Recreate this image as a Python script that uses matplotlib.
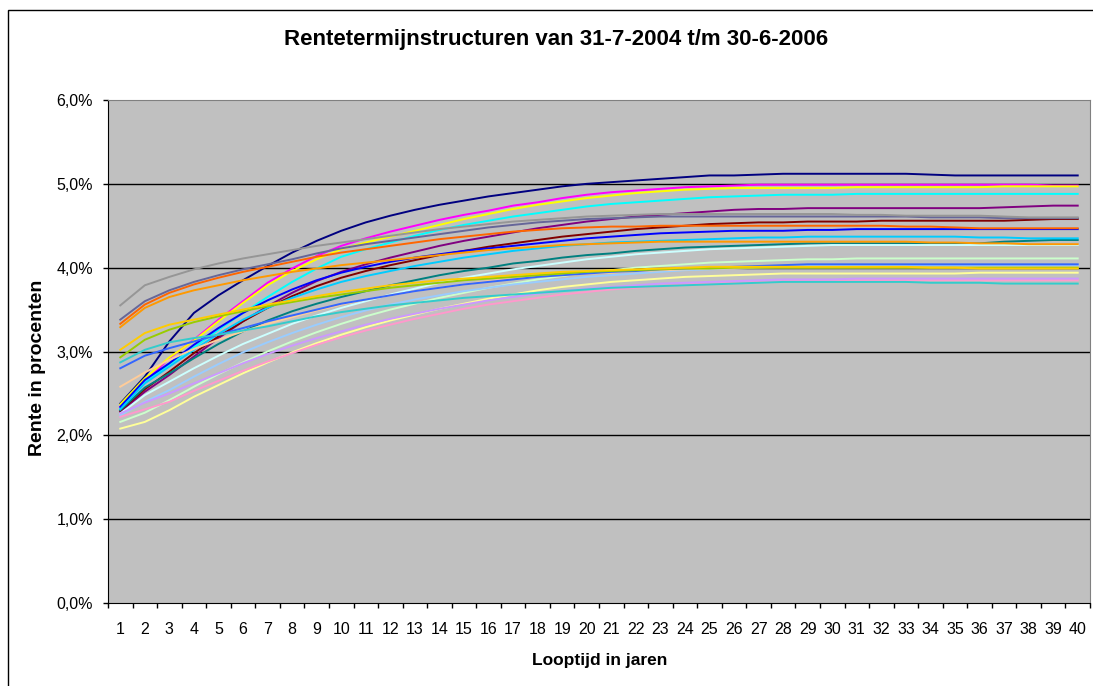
import numpy as np
from matplotlib import pyplot as plt
from matplotlib.patches import Rectangle

plt.rcParams['font.family'] = ['Liberation Sans', 'DejaVu Sans']

# looptijd in jaren (categorie-as)
looptijd = list(range(1, 41))

# rentetermijnstructuren per maandeinde, in procenten
r_2004_07 = [2.38, 2.70, 3.12, 3.46, 3.67, 3.85, 4.02, 4.18, 4.32, 4.44,
             4.54, 4.62, 4.69, 4.75, 4.80, 4.85, 4.89, 4.93, 4.97, 5.00,
             5.02, 5.04, 5.06, 5.08, 5.10, 5.10, 5.11, 5.12, 5.12, 5.12,
             5.12, 5.12, 5.12, 5.11, 5.10, 5.10, 5.10, 5.10, 5.10, 5.10]
r_2004_08 = [2.33, 2.64, 2.92, 3.14, 3.38, 3.60, 3.82, 3.99, 4.14, 4.26,
             4.35, 4.43, 4.50, 4.57, 4.63, 4.68, 4.74, 4.78, 4.83, 4.87,
             4.90, 4.92, 4.94, 4.96, 4.97, 4.98, 4.99, 4.99, 4.99, 4.99,
             4.99, 4.99, 4.99, 4.99, 4.99, 4.99, 4.99, 4.99, 4.98, 4.98]
r_2004_09 = [2.37, 2.68, 2.93, 3.13, 3.36, 3.58, 3.79, 3.96, 4.10, 4.22,
             4.30, 4.37, 4.44, 4.51, 4.58, 4.64, 4.70, 4.75, 4.79, 4.83,
             4.86, 4.89, 4.91, 4.93, 4.94, 4.95, 4.95, 4.95, 4.95, 4.95,
             4.96, 4.96, 4.96, 4.96, 4.96, 4.96, 4.97, 4.97, 4.97, 4.97]
r_2004_10 = [2.32, 2.63, 2.85, 3.05, 3.26, 3.46, 3.65, 3.83, 3.99, 4.13,
             4.22, 4.30, 4.38, 4.45, 4.51, 4.56, 4.61, 4.65, 4.69, 4.73,
             4.76, 4.78, 4.80, 4.82, 4.84, 4.85, 4.86, 4.87, 4.87, 4.87,
             4.88, 4.88, 4.88, 4.88, 4.88, 4.88, 4.88, 4.88, 4.88, 4.88]
r_2004_11 = [2.28, 2.52, 2.72, 2.94, 3.16, 3.36, 3.54, 3.70, 3.84, 3.95,
             4.04, 4.12, 4.19, 4.26, 4.32, 4.37, 4.42, 4.47, 4.51, 4.55,
             4.58, 4.61, 4.63, 4.65, 4.67, 4.69, 4.70, 4.70, 4.71, 4.71,
             4.71, 4.71, 4.71, 4.71, 4.71, 4.71, 4.72, 4.73, 4.74, 4.74]
r_2004_12 = [2.29, 2.55, 2.76, 2.98, 3.18, 3.36, 3.52, 3.66, 3.78, 3.88,
             3.96, 4.03, 4.09, 4.15, 4.20, 4.25, 4.29, 4.33, 4.37, 4.40,
             4.43, 4.46, 4.48, 4.50, 4.52, 4.53, 4.54, 4.54, 4.55, 4.55,
             4.55, 4.56, 4.56, 4.56, 4.56, 4.56, 4.56, 4.57, 4.58, 4.58]
r_2005_01 = [2.30, 2.57, 2.74, 2.92, 3.09, 3.24, 3.37, 3.48, 3.57, 3.65,
             3.72, 3.79, 3.85, 3.91, 3.96, 4.00, 4.05, 4.08, 4.12, 4.15,
             4.17, 4.20, 4.22, 4.24, 4.25, 4.26, 4.27, 4.28, 4.29, 4.29,
             4.29, 4.29, 4.29, 4.29, 4.29, 4.29, 4.31, 4.32, 4.33, 4.33]
r_2005_02 = [2.34, 2.66, 2.86, 3.08, 3.28, 3.46, 3.61, 3.74, 3.85, 3.94,
             4.01, 4.07, 4.12, 4.16, 4.20, 4.23, 4.26, 4.29, 4.32, 4.35,
             4.37, 4.39, 4.41, 4.42, 4.43, 4.44, 4.44, 4.44, 4.45, 4.45,
             4.46, 4.46, 4.46, 4.46, 4.46, 4.46, 4.46, 4.46, 4.46, 4.46]
r_2005_03 = [2.31, 2.62, 2.82, 3.02, 3.21, 3.38, 3.52, 3.64, 3.74, 3.83,
             3.90, 3.96, 4.02, 4.07, 4.12, 4.16, 4.20, 4.23, 4.26, 4.28,
             4.30, 4.31, 4.32, 4.33, 4.34, 4.35, 4.36, 4.36, 4.37, 4.37,
             4.37, 4.37, 4.37, 4.37, 4.37, 4.36, 4.36, 4.35, 4.35, 4.35]
r_2005_04 = [2.26, 2.48, 2.64, 2.80, 2.95, 3.09, 3.21, 3.33, 3.43, 3.52,
             3.60, 3.68, 3.75, 3.82, 3.88, 3.93, 3.98, 4.02, 4.06, 4.10,
             4.13, 4.16, 4.18, 4.20, 4.22, 4.23, 4.24, 4.25, 4.26, 4.27,
             4.27, 4.27, 4.27, 4.27, 4.27, 4.27, 4.27, 4.27, 4.27, 4.27]
r_2005_05 = [2.16, 2.27, 2.42, 2.58, 2.73, 2.87, 3.00, 3.12, 3.23, 3.33,
             3.42, 3.50, 3.57, 3.64, 3.70, 3.76, 3.81, 3.86, 3.90, 3.94,
             3.97, 4.00, 4.02, 4.04, 4.06, 4.07, 4.08, 4.09, 4.10, 4.10,
             4.11, 4.11, 4.11, 4.11, 4.11, 4.11, 4.11, 4.11, 4.11, 4.11]
r_2005_06 = [2.08, 2.16, 2.30, 2.46, 2.60, 2.74, 2.87, 2.99, 3.10, 3.20,
             3.29, 3.37, 3.44, 3.51, 3.57, 3.63, 3.68, 3.73, 3.77, 3.80,
             3.83, 3.85, 3.87, 3.89, 3.90, 3.91, 3.92, 3.93, 3.93, 3.93,
             3.93, 3.93, 3.93, 3.93, 3.93, 3.94, 3.94, 3.94, 3.94, 3.94]
r_2005_07 = [2.24, 2.40, 2.54, 2.70, 2.85, 2.99, 3.11, 3.22, 3.32, 3.41,
             3.49, 3.56, 3.62, 3.67, 3.72, 3.76, 3.80, 3.83, 3.86, 3.89,
             3.91, 3.93, 3.95, 3.97, 3.98, 3.99, 4.00, 4.01, 4.02, 4.02,
             4.03, 4.03, 4.03, 4.03, 4.03, 4.03, 4.03, 4.03, 4.03, 4.03]
r_2005_08 = [2.22, 2.31, 2.40, 2.53, 2.65, 2.77, 2.88, 2.98, 3.08, 3.17,
             3.25, 3.32, 3.39, 3.45, 3.51, 3.56, 3.60, 3.64, 3.68, 3.71,
             3.74, 3.76, 3.78, 3.80, 3.81, 3.82, 3.83, 3.84, 3.85, 3.85,
             3.85, 3.85, 3.85, 3.85, 3.85, 3.85, 3.85, 3.85, 3.85, 3.85]
r_2005_09 = [2.26, 2.39, 2.50, 2.62, 2.74, 2.86, 2.97, 3.07, 3.16, 3.24,
             3.32, 3.39, 3.45, 3.51, 3.56, 3.61, 3.65, 3.69, 3.72, 3.75,
             3.77, 3.79, 3.81, 3.82, 3.83, 3.84, 3.85, 3.86, 3.86, 3.86,
             3.87, 3.87, 3.87, 3.87, 3.87, 3.87, 3.87, 3.87, 3.87, 3.87]
r_2005_10 = [2.58, 2.75, 2.90, 3.03, 3.14, 3.24, 3.33, 3.41, 3.49, 3.56,
             3.62, 3.67, 3.72, 3.76, 3.80, 3.84, 3.87, 3.89, 3.91, 3.93,
             3.94, 3.96, 3.97, 3.98, 3.99, 3.99, 4.00, 4.00, 4.00, 4.00,
             4.00, 4.00, 4.00, 4.00, 4.00, 4.00, 4.00, 4.00, 4.00, 4.00]
r_2005_11 = [2.80, 2.95, 3.04, 3.12, 3.20, 3.28, 3.36, 3.43, 3.50, 3.57,
             3.62, 3.67, 3.72, 3.76, 3.80, 3.83, 3.86, 3.89, 3.91, 3.93,
             3.95, 3.96, 3.98, 3.99, 4.00, 4.01, 4.02, 4.03, 4.04, 4.04,
             4.04, 4.04, 4.04, 4.04, 4.04, 4.04, 4.04, 4.04, 4.04, 4.04]
r_2005_12 = [2.87, 3.02, 3.11, 3.16, 3.20, 3.25, 3.30, 3.36, 3.42, 3.47,
             3.51, 3.55, 3.58, 3.61, 3.64, 3.66, 3.68, 3.70, 3.72, 3.74,
             3.76, 3.77, 3.78, 3.79, 3.80, 3.81, 3.82, 3.83, 3.83, 3.83,
             3.83, 3.83, 3.83, 3.82, 3.82, 3.82, 3.81, 3.81, 3.81, 3.81]
r_2006_01 = [2.93, 3.14, 3.26, 3.35, 3.42, 3.48, 3.54, 3.59, 3.64, 3.68,
             3.72, 3.76, 3.79, 3.82, 3.85, 3.87, 3.89, 3.91, 3.93, 3.95,
             3.96, 3.97, 3.98, 3.99, 3.99, 4.00, 4.00, 4.00, 4.00, 4.00,
             4.00, 4.00, 4.00, 4.00, 4.00, 4.00, 4.00, 4.00, 4.00, 4.00]
r_2006_02 = [3.02, 3.22, 3.32, 3.38, 3.44, 3.50, 3.56, 3.61, 3.66, 3.71,
             3.75, 3.79, 3.82, 3.85, 3.87, 3.89, 3.91, 3.93, 3.95, 3.96,
             3.97, 3.98, 3.99, 4.00, 4.01, 4.01, 4.01, 4.01, 4.01, 4.01,
             4.01, 4.01, 4.01, 4.00, 4.00, 3.99, 3.99, 3.99, 3.99, 3.99]
r_2006_03 = [3.29, 3.52, 3.65, 3.73, 3.79, 3.85, 3.90, 3.95, 3.99, 4.03,
             4.06, 4.09, 4.12, 4.15, 4.18, 4.21, 4.23, 4.25, 4.27, 4.28,
             4.29, 4.30, 4.31, 4.31, 4.31, 4.31, 4.31, 4.31, 4.31, 4.31,
             4.31, 4.31, 4.31, 4.30, 4.30, 4.29, 4.29, 4.28, 4.28, 4.28]
r_2006_04 = [3.33, 3.56, 3.70, 3.80, 3.88, 3.95, 4.01, 4.07, 4.13, 4.18,
             4.22, 4.26, 4.30, 4.34, 4.37, 4.40, 4.43, 4.45, 4.47, 4.48,
             4.49, 4.49, 4.50, 4.50, 4.50, 4.50, 4.50, 4.50, 4.50, 4.50,
             4.50, 4.50, 4.49, 4.49, 4.48, 4.47, 4.47, 4.47, 4.47, 4.47]
r_2006_05 = [3.38, 3.60, 3.73, 3.83, 3.91, 3.98, 4.04, 4.10, 4.17, 4.23,
             4.28, 4.32, 4.36, 4.40, 4.44, 4.48, 4.51, 4.54, 4.56, 4.58,
             4.59, 4.60, 4.61, 4.61, 4.61, 4.61, 4.61, 4.61, 4.61, 4.61,
             4.61, 4.61, 4.61, 4.60, 4.60, 4.60, 4.59, 4.59, 4.59, 4.59]
r_2006_06 = [3.55, 3.79, 3.89, 3.98, 4.05, 4.11, 4.16, 4.21, 4.26, 4.30,
             4.34, 4.38, 4.42, 4.46, 4.49, 4.52, 4.55, 4.57, 4.59, 4.61,
             4.62, 4.63, 4.64, 4.64, 4.64, 4.64, 4.64, 4.64, 4.64, 4.64,
             4.63, 4.63, 4.62, 4.62, 4.62, 4.62, 4.61, 4.60, 4.60, 4.60]

series = [r_2004_07, r_2004_08, r_2004_09, r_2004_10, r_2004_11, r_2004_12,
          r_2005_01, r_2005_02, r_2005_03, r_2005_04, r_2005_05, r_2005_06,
          r_2005_07, r_2005_08, r_2005_09, r_2005_10, r_2005_11, r_2005_12,
          r_2006_01, r_2006_02, r_2006_03, r_2006_04, r_2006_05, r_2006_06]

# standaard Excel lijnkleuren, in volgorde van de reeksen
colors = ['#000080', '#FF00FF', '#FFFF00', '#00FFFF', '#800080', '#800000',
          '#008080', '#0000FF', '#00CCFF', '#CCFFFF', '#CCFFCC', '#FFFF99',
          '#99CCFF', '#FF99CC', '#CC99FF', '#FFCC99', '#3366FF', '#33CCCC',
          '#99CC00', '#FFCC00', '#FF9900', '#FF6600', '#666699', '#969696']

W, H = 1093, 686
fig = plt.figure(figsize=(W / 100, H / 100), dpi=100)
ax = fig.add_axes([108 / W, 1 - 603 / H, 982 / W, 503 / H])
ax.set_facecolor('#C0C0C0')

for y in [1, 2, 3, 4, 5]:
    ax.axhline(y, color='black', linewidth=1, zorder=1)

for vals, c in zip(series, colors):
    ax.plot(looptijd, vals, color=c, linewidth=1.4, zorder=2)

ax.set_xlim(0.5, 40.5)
ax.set_ylim(0, 6)

# tick marks tussen de categorieen, labels in het midden
ax.set_xticks(np.arange(0.5, 41, 1))
ax.set_xticklabels([])
ax.set_xticks(looptijd, minor=True)
ax.set_xticklabels([str(k) for k in looptijd], minor=True)
ax.tick_params(axis='x', which='major', direction='out', length=3.6, width=1)
ax.tick_params(axis='x', which='minor', length=0, pad=13.5, labelsize=11.5)

ax.set_yticks([0, 1, 2, 3, 4, 5, 6])
ax.set_yticklabels([f"{v:.1f}%".replace('.', ',') for v in range(7)])
ax.tick_params(axis='y', direction='out', length=3.6, width=1, pad=7.2, labelsize=11.5)

for side in ['left', 'bottom']:
    ax.spines[side].set_color('black')
for side in ['top', 'right']:
    ax.spines[side].set_color('#808080')

fig.text(556 / W, 1 - 40 / H, 'Rentetermijnstructuren van 31-7-2004 t/m 30-6-2006',
         ha='center', va='center', fontsize=16, fontweight='bold')
fig.text(600 / W, 1 - 660 / H, 'Looptijd in jaren',
         ha='center', va='center', fontsize=12.5, fontweight='bold')
fig.text(38 / W, 1 - 368 / H, 'Rente in procenten', rotation=90,
         ha='center', va='center', fontsize=14, fontweight='bold')

# rand van het grafiekgebied
fig.add_artist(Rectangle((8 / W, -0.1), 1.2, 1.1 - 10 / H, transform=fig.transFigure,
                         fill=False, edgecolor='black', linewidth=1))

plt.savefig('out.png', dpi=100)
